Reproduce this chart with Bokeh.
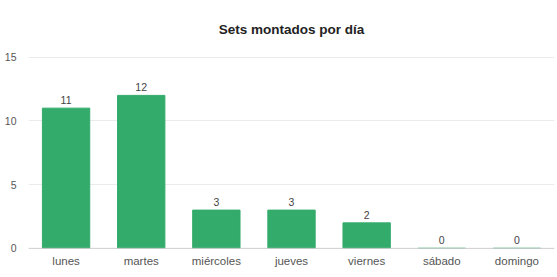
from bokeh.plotting import figure
from bokeh.models import ColumnDataSource, Range1d, FactorRange, Span, FixedTicker
from bokeh.core.properties import value
from bokeh.embed import file_html
from bokeh.resources import INLINE

days = ["lunes", "martes", "miércoles", "jueves", "viernes", "sábado", "domingo"]
counts = [11, 12, 3, 3, 2, 0, 0]
y_ticks = [0, 5, 10, 15]

src = ColumnDataSource(dict(day=days, count=counts, label=[str(c) for c in counts],
                            base=[0] * len(days)))

p = figure(width=555, height=268, x_range=FactorRange(*days, range_padding=0),
           y_range=Range1d(-1.58, 15.05), output_backend="svg", toolbar_location=None,
           min_border_left=28, min_border_right=1, min_border_bottom=0, min_border_top=48)

p.title.text = "Sets montados por día"
p.title.align = "center"
p.title.text_font = "Arial"
p.title.text_font_size = "13.5px"
p.title.text_font_style = "bold"
p.title.text_color = "#222222"
p.title.standoff = 39

p.vbar(x="day", top="count", width=0.63, source=src, color="#33ab6b")
p.text(x="day", y="count", text="label", source=src, text_align="center",
       text_baseline="bottom", y_offset=-4, text_font=value("Arial"),
       text_font_size="10.5px", text_color="#444444")
p.text(x="day", y="base", text="day", source=src, text_align="center",
       text_baseline="middle", y_offset=13, text_font=value("Arial"),
       text_font_size="11.5px", text_color="#555555")

p.outline_line_color = None
p.xgrid.grid_line_color = None
p.ygrid.grid_line_color = "#ebebeb"
p.xaxis.visible = False
p.yaxis.ticker = FixedTicker(ticks=y_ticks)
ax = p.yaxis[0]
ax.axis_line_color = None
ax.major_tick_line_color = None
ax.minor_tick_line_color = None
ax.major_tick_out = 0
ax.major_tick_in = 0
ax.minor_tick_out = 0
ax.major_label_text_font = "Arial"
ax.major_label_text_font_size = "10.5px"
ax.major_label_text_color = "#555555"
p.yaxis.major_label_standoff = 12
p.add_layout(Span(location=0, dimension="width", line_color="#d0d0d0", line_width=1))

open("out.html", "w").write(file_html(p, INLINE))
